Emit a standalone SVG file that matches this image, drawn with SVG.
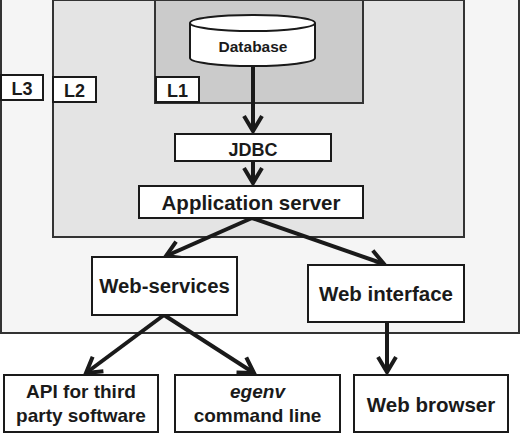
<svg xmlns="http://www.w3.org/2000/svg" width="520" height="434" viewBox="0 0 520 434">
<style>
text{font-family:"Liberation Sans",Arial,sans-serif;font-weight:bold;fill:#1a1a1a;text-anchor:middle}
.box{fill:#fff;stroke:#1a1a1a;stroke-width:2}
.region{stroke:#333;stroke-width:2}
.conn{stroke:#1a1a1a;stroke-width:4;fill:none}
</style>
<defs>
<marker id="arr" markerUnits="userSpaceOnUse" markerWidth="40" markerHeight="40" viewBox="-20 -20 40 40" refX="0" refY="0" orient="auto" overflow="visible">
<path d="M-15,-9 L0,0 L-15,9" fill="none" stroke="#1a1a1a" stroke-width="4" stroke-linejoin="miter"/>
</marker>
</defs>
<g id="L3">
<rect class="region" x="1" y="-5" width="518" height="338" fill="#f5f5f5"/>
<rect class="box" x="1" y="75" width="42" height="25"/>
<text x="22" y="95" font-size="18">L3</text>
</g>
<g id="L2">
<rect class="region" x="53" y="0" width="411" height="237" fill="#e4e4e4"/>
<rect class="box" x="53" y="77" width="43" height="25"/>
<text x="74.5" y="97" font-size="18">L2</text>
</g>
<g id="L1">
<rect class="region" x="155" y="0" width="208" height="103" fill="#cbcbcb"/>
<rect class="box" x="156" y="77" width="43" height="25"/>
<text x="177.5" y="97" font-size="18">L1</text>
</g>
<g id="connectors">
<line class="conn" x1="253" y1="66" x2="253" y2="131" marker-end="url(#arr)"/>
<line class="conn" x1="253" y1="161" x2="253" y2="183" marker-end="url(#arr)"/>
<line class="conn" x1="252" y1="218" x2="166" y2="256" marker-end="url(#arr)"/>
<line class="conn" x1="252" y1="218" x2="384" y2="264" marker-end="url(#arr)"/>
<line class="conn" x1="164" y1="315" x2="86" y2="373" marker-end="url(#arr)"/>
<line class="conn" x1="164" y1="315" x2="254" y2="373" marker-end="url(#arr)"/>
<line class="conn" x1="387" y1="322" x2="387" y2="372" marker-end="url(#arr)"/>
</g>
<g id="database">
<path d="M190,23 L190,58 A62.5,8 0 0 0 315,58 L315,23" fill="#fff" stroke="#1a1a1a" stroke-width="2"/>
<ellipse cx="252.5" cy="23" rx="62.5" ry="8" fill="#fff" stroke="#1a1a1a" stroke-width="2"/>
<text x="253" y="52" font-size="15.5">Database</text>
</g>
<g id="jdbc">
<rect class="box" x="175" y="134" width="156" height="27"/>
<text x="253" y="156" font-size="18">JDBC</text>
</g>
<g id="appserver">
<rect class="box" x="139" y="186" width="224" height="32"/>
<text x="251" y="210" font-size="20.5">Application server</text>
</g>
<g id="webservices">
<rect class="box" x="92" y="257" width="145" height="58"/>
<text x="164.5" y="293" font-size="20.3">Web-services</text>
</g>
<g id="webinterface">
<rect class="box" x="308" y="265" width="156" height="57"/>
<text x="386" y="301" font-size="20.5">Web interface</text>
</g>
<g id="api">
<rect class="box" x="4" y="375" width="154" height="57"/>
<text x="81" y="398" font-size="19">API for third</text>
<text x="81" y="422" font-size="19">party software</text>
</g>
<g id="egenv">
<rect class="box" x="175" y="375" width="165" height="57"/>
<text x="257.5" y="398" font-size="19" font-style="italic">egenv</text>
<text x="257.5" y="422" font-size="19">command line</text>
</g>
<g id="webbrowser">
<rect class="box" x="354" y="375" width="154" height="57"/>
<text x="431" y="412" font-size="20.5">Web browser</text>
</g>
</svg>
